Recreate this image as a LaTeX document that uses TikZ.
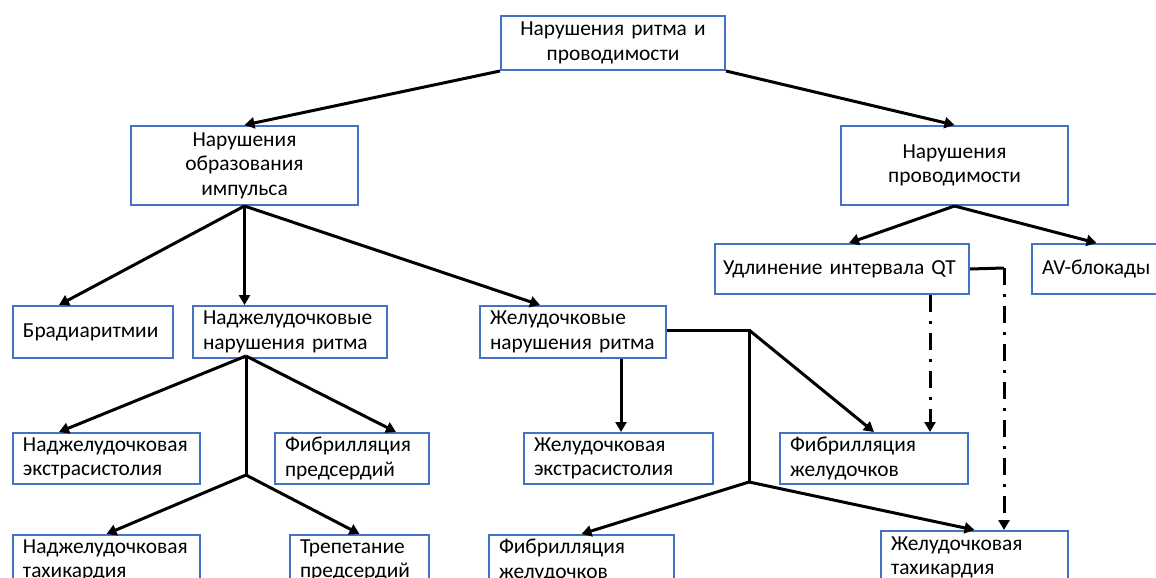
\documentclass[tikz,border=0pt]{standalone}
\usepackage{fontspec}
\setmainfont{Carlito}
\usetikzlibrary{arrows.meta}
\definecolor{boxblue}{RGB}{68,114,196}
\begin{document}
\begin{tikzpicture}[
    x=0.5pt, y=-0.5pt,
    box/.style={
      draw=boxblue, line width=1pt, anchor=north west,
      inner xsep=5pt, inner ysep=0pt, align=left,
      minimum height=25.5pt,
      font=\fontsize{10.7}{12.25}\selectfont
    },
    plain/.style={line width=1.5pt},
    link/.style={plain, -{Triangle[length=5pt,width=5.5pt]}},
    dashlink/.style={link, dash pattern=on 8.5pt off 4.5pt on 1.5pt off 4.5pt}
  ]
  \useasboundingbox (0,0) rectangle (1156,578);

  \node[box, align=center, text width=102pt, minimum height=27pt] (nrp) at (500,15) {Нарушения ритма и\\проводимости};
  \node[box, align=center, text width=103.5pt, minimum height=39.5pt] (obr) at (130,125) {Нарушения\\образования\\импульса};
  \node[box, align=center, text width=103.5pt, minimum height=39.5pt] (prov) at (840,125) {Нарушения\\проводимости};
  \node[box, inner xsep=4pt, text width=119pt, minimum height=25pt] (qt) at (714,243) {Удлинение интервала QT};
  \node[box, text width=54.5pt, minimum height=25pt] (av) at (1031,243) {AV-блокады};

  \node[box, text width=70pt, minimum height=26pt] (brad) at (12,305) {Брадиаритмии};
  \node[box, text width=87pt, minimum height=26pt] (nad) at (192,305) {Наджелудочковые\\нарушения ритма};
  \node[box, text width=83pt, minimum height=26pt] (zhel) at (479,305) {Желудочковые\\нарушения ритма};

  \node[box, text width=83.5pt] (nadext) at (12,432) {Наджелудочковая\\экстрасистолия};
  \node[box, text width=67pt] (fibpr) at (274,432) {Фибрилляция\\предсердий};
  \node[box, text width=84.5pt] (zhelext) at (523,432) {Желудочковая\\экстрасистолия};
  \node[box, text width=84pt] (fibzh) at (779,432) {Фибрилляция\\желудочков};

  \node[box, text width=83.5pt] (nadtah) at (12,534) {Наджелудочковая\\тахикардия};
  \node[box, text width=59.5pt] (trep) at (289,534) {Трепетание\\предсердий};
  \node[box, text width=82.5pt] (fibzhb) at (488,534) {Фибрилляция\\желудочков};
  \node[box, text width=83.5pt, minimum height=26.5pt] (zheltah) at (880,530) {Желудочковая\\тахикардия};

  \coordinate (nadtop) at (246,356);
  \coordinate (nadfork) at (246,475);
  \coordinate (zhelturn) at (749,330);
  \coordinate (zhelfork) at (749,482);
  \coordinate (qtturn) at (1004,268);

  \draw[link] (nrp.south west) -- (obr.north);
  \draw[link] (nrp.south east) -- (prov.north);

  \draw[link] (obr.south) -- ([xshift=23.5pt]brad.north west);
  \draw[link] (obr.south) -- (obr.south |- nad.north);
  \draw[link] (obr.south) -- ([xshift=30.5pt]zhel.north west);

  \draw[link] (prov.south) -- ([xshift=3.5pt]qt.north);
  \draw[link] (prov.south) -- (av.north);

  \draw[link] (nadtop) -- ([xshift=23.5pt]nadext.north west);
  \draw[link] (nadtop) -- ([xshift=61pt]fibpr.north west);
  \draw[plain] (nadtop) -- (nadfork);
  \draw[link] (nadfork) -- (nadtah.north);
  \draw[link] (nadfork) -- (trep.north);

  \draw[link] ([xshift=71pt]zhel.south west) -- ([xshift=49pt]zhelext.north west);
  \draw[plain] (zhel.east |- zhelturn) -- (zhelturn) -- (zhelfork);
  \draw[link] (zhelturn) -- (fibzh.north);
  \draw[link] (zhelfork) -- (fibzhb.north);
  \draw[link] (zhelfork) -- (zheltah.north);

  \draw[dashlink] ([xshift=108pt]qt.south west) -- ([xshift=75.5pt]fibzh.north west);
  \draw[plain] (qt.east) -- (qtturn);
  \draw[dashlink] (qtturn) -- (qtturn |- zheltah.north);
\end{tikzpicture}
\end{document}
